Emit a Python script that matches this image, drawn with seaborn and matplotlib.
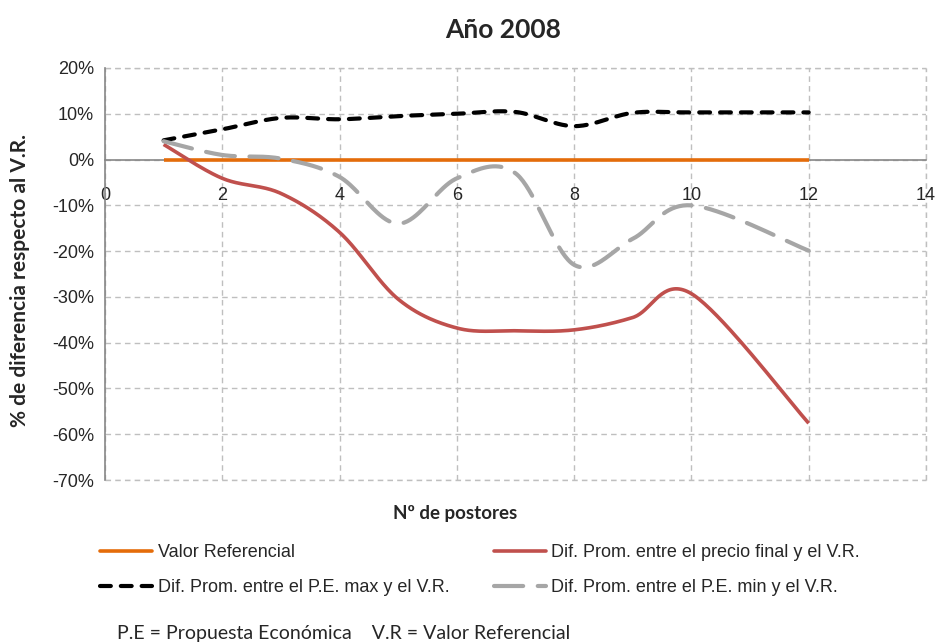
import numpy as np
import pandas as pd
import matplotlib
matplotlib.use("Agg")
import matplotlib.pyplot as plt
import seaborn as sns
from matplotlib.lines import Line2D
from matplotlib.ticker import FuncFormatter

# ---- data (percent) ----
postores = [1, 2, 3, 4, 5, 6, 7, 8, 9, 10, 12]
valor_referencial = [0, 0, 0, 0, 0, 0, 0, 0, 0, 0, 0]
dif_precio_final = [3.3, -4.1, -7.4, -15.9, -30.5, -36.8, -37.4, -37.2, -34.5, -29.3, -57.6]
dif_pe_max = [4.2, 6.6, 9.1, 8.8, 9.5, 10.0, 10.4, 7.3, 10.2, 10.3, 10.3]
dif_pe_min = [4.0, 1.0, 0.2, -3.8, -14.0, -4.1, -3.0, -23.0, -17.3, -10.0, -19.9]

labels = ["Valor Referencial",
          "Dif. Prom. entre el precio final y el V.R.",
          "Dif. Prom. entre el P.E. max y el V.R.",
          "Dif. Prom. entre el P.E. min y el V.R."]
x_ticks = [0, 2, 4, 6, 8, 10, 12, 14]
y_ticks = [20, 10, 0, -10, -20, -30, -40, -50, -60, -70]


def excel_smooth(xs, ys, n=40):
    """Excel-style smoothed line (Catmull-Rom Bezier through the points)."""
    P = np.column_stack([xs, ys]).astype(float)
    out = [P[0]]
    m = len(P)
    t = np.linspace(0, 1, n)[1:]
    for i in range(m - 1):
        p0 = P[i - 1] if i > 0 else P[i]
        p1 = P[i]
        p2 = P[i + 1]
        p3 = P[i + 2] if i + 2 < m else P[i + 1]
        c1 = p1 + (p2 - p0) / 6.0
        c2 = p2 - (p3 - p1) / 6.0
        tt = t[:, None]
        seg = ((1 - tt) ** 3) * p1 + 3 * ((1 - tt) ** 2) * tt * c1 + 3 * (1 - tt) * tt ** 2 * c2 + tt ** 3 * p2
        out.extend(seg)
    out = np.array(out)
    return out[:, 0], out[:, 1]


sns.set_theme(style="white")
plt.rcParams['font.family'] = ['Liberation Sans', 'DejaVu Sans']

fig = plt.figure(figsize=(9.38, 6.42), dpi=100)
ax = fig.add_axes([105 / 938, 1 - 480 / 642, (926 - 105) / 938, (480 - 68) / 642])

series = [
    (valor_referencial, dict(color="#E46C0A", lw=2.6), False),
    (dif_precio_final, dict(color="#C0504D", lw=2.6), True),
    (dif_pe_max, dict(color="black", lw=3.0, dashes=(2.6, 2.4)), True),
    (dif_pe_min, dict(color="#A6A6A6", lw=3.0, dashes=(7.0, 3.5)), True),
]

handles = []
for (vals, style, smooth), lab in zip(series, labels):
    if smooth:
        sx, sy = excel_smooth(postores, vals)
    else:
        sx, sy = np.array(postores, float), np.array(vals, float)
    df = pd.DataFrame({"x": sx, "y": sy})
    sns.lineplot(data=df, x="x", y="y", ax=ax, sort=False, estimator=None,
                 color=style["color"], linewidth=style["lw"])
    ln = ax.lines[-1]
    ln.set_solid_capstyle("butt")
    ln.set_zorder(3)
    h = Line2D([], [], color=style["color"], linewidth=style["lw"])
    if "dashes" in style:
        for obj in (ln, h):
            obj.set_dashes(style["dashes"])
            obj.set_dash_capstyle("round")
    handles.append(h)

ax.set_xlim(0, 14)
ax.set_ylim(-70, 20)
ax.set_xticks(x_ticks)
ax.set_yticks(y_ticks)
ax.yaxis.set_major_formatter(FuncFormatter(lambda v, p: f"{int(round(v))}%"))
grid_kw = dict(color="#BFBFBF", linestyle=(0, (4, 3)), linewidth=1.0)
ax.grid(True, **grid_kw)
ax.set_axisbelow(True)
# grid lines on the plot-area edges
ax.axhline(-70, clip_on=False, zorder=0.5, **grid_kw)
ax.axhline(20, clip_on=False, zorder=0.5, **grid_kw)
ax.axvline(14, clip_on=False, zorder=0.5, **grid_kw)

for s in ["top", "right"]:
    ax.spines[s].set_visible(False)
ax.spines["left"].set_color("#868686")
ax.spines["left"].set_linewidth(1.2)
ax.spines["bottom"].set_position(("data", 0))
ax.spines["bottom"].set_color("#868686")
ax.spines["bottom"].set_linewidth(1.2)
ax.spines["bottom"].set_zorder(1.5)
ax.tick_params(axis="x", length=0, pad=20, labelsize=13)
ax.tick_params(axis="y", length=0, pad=8, labelsize=13)
ax.set_xlabel("")
ax.set_ylabel("")

fig.text(503 / 938, 1 - 30 / 642, "Año 2008", ha="center", va="center",
         fontsize=19, fontweight="bold", family=["Lato", "DejaVu Sans"])
fig.text(20 / 938, 1 - 280 / 642, "% de diferencia respecto al V.R.", ha="center", va="center",
         rotation=90, fontsize=15, fontweight="bold", family=["Lato", "DejaVu Sans"])
fig.text(455 / 938, 1 - 513 / 642, "Nº de postores", ha="center", va="center",
         fontsize=13.5, fontweight="bold", family=["Lato", "DejaVu Sans"])

leg_handles = [handles[0], handles[2], handles[1], handles[3]]
leg_labels = [labels[0], labels[2], labels[1], labels[3]]
leg = fig.legend(leg_handles, leg_labels, ncol=2, loc="upper left",
                 bbox_to_anchor=(100 / 938, 1 - 544 / 642), frameon=False,
                 prop={"family": ["Liberation Sans", "DejaVu Sans"], "size": 13},
                 handlelength=2.9, handletextpad=0.3, columnspacing=2.45,
                 labelspacing=1.0, borderaxespad=0, borderpad=0)

fig.text(117 / 938, 1 - 633 / 642, "P.E = Propuesta Económica    V.R = Valor Referencial",
         ha="left", va="center", fontsize=14, family=["Lato", "DejaVu Sans"])

fig.savefig("out.png", dpi=100)
